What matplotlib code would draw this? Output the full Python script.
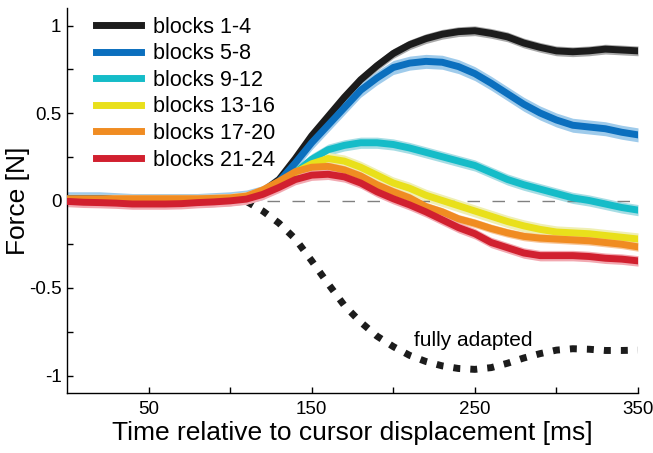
import numpy as np
import matplotlib
matplotlib.use("Agg")
from matplotlib import pyplot as plt

plt.rcParams['font.family'] = ['Liberation Sans', 'DejaVu Sans']

# time grid [ms]
t = np.arange(0, 351, 10)

# mean force per block group [N]
blocks_1_4 = [0.01, 0.01, 0.01, 0.005, 0.0, 0.0, 0.0, 0.0, 0.0, 0.005,
              0.01, 0.02, 0.05, 0.12, 0.24, 0.37, 0.48, 0.59, 0.69, 0.77,
              0.84, 0.89, 0.925, 0.95, 0.965, 0.97, 0.955, 0.935, 0.90,
              0.875, 0.855, 0.85, 0.855, 0.865, 0.86, 0.855]
blocks_5_8 = [0.01, 0.01, 0.01, 0.005, 0.0, 0.0, 0.0, 0.0, 0.0, 0.005,
              0.01, 0.02, 0.045, 0.11, 0.215, 0.33, 0.43, 0.53, 0.63, 0.70,
              0.76, 0.785, 0.795, 0.79, 0.765, 0.725, 0.67, 0.61, 0.55,
              0.50, 0.46, 0.43, 0.42, 0.41, 0.39, 0.375]
blocks_9_12 = [0.0, 0.0, 0.0, 0.0, 0.0, 0.0, 0.0, 0.0, 0.0, 0.0,
               0.005, 0.015, 0.04, 0.09, 0.16, 0.235, 0.29, 0.315, 0.33,
               0.33, 0.32, 0.30, 0.275, 0.25, 0.225, 0.20, 0.16, 0.12,
               0.09, 0.065, 0.04, 0.015, 0.0, -0.02, -0.04, -0.055]
blocks_13_16 = [0.0, 0.0, 0.0, 0.0, 0.0, 0.0, 0.0, 0.0, 0.0, 0.0,
                0.005, 0.015, 0.045, 0.10, 0.16, 0.21, 0.24, 0.225, 0.19,
                0.145, 0.10, 0.07, 0.03, 0.0, -0.03, -0.06, -0.09, -0.12,
                -0.145, -0.165, -0.18, -0.185, -0.19, -0.20, -0.21, -0.22]
blocks_17_20 = [0.01, 0.01, 0.01, 0.01, 0.01, 0.01, 0.01, 0.01, 0.01, 0.012,
                0.015, 0.025, 0.06, 0.11, 0.165, 0.19, 0.195, 0.175, 0.14,
                0.09, 0.05, 0.015, -0.035, -0.065, -0.105, -0.13, -0.16,
                -0.185, -0.205, -0.215, -0.22, -0.225, -0.23, -0.24, -0.25,
                -0.265]
blocks_21_24 = [-0.005, -0.01, -0.012, -0.015, -0.02, -0.02, -0.02, -0.018,
                -0.012, -0.008, -0.002, 0.008, 0.035, 0.075, 0.12, 0.145,
                0.15, 0.135, 0.10, 0.05, 0.01, -0.025, -0.065, -0.11, -0.155,
                -0.19, -0.24, -0.27, -0.30, -0.315, -0.315, -0.315, -0.32,
                -0.33, -0.335, -0.345]

# standard error half-widths [N]
sem = [0.028, 0.04, 0.032, 0.035, 0.025, 0.03]

# fully adapted prediction
t_adapted = np.arange(100, 351, 10)
fully_adapted = [0.0, -0.005, -0.06, -0.13, -0.22, -0.345, -0.475, -0.60,
                 -0.695, -0.775, -0.835, -0.885, -0.92, -0.945, -0.96, -0.965,
                 -0.955, -0.93, -0.90, -0.875, -0.855, -0.847, -0.85, -0.857,
                 -0.857, -0.855]

labels = ["blocks 1-4", "blocks 5-8", "blocks 9-12", "blocks 13-16",
          "blocks 17-20", "blocks 21-24"]
colors = ["#1c1c1c", "#0b6fbe", "#15bcc8", "#e9e01b", "#f08c22", "#d1202f"]
band_colors = ["#a9a9a9", "#9fcbeb", "#a6dde4", "#efefb4", "#f8c79a",
               "#f2a9b1"]

x_ticks = [50, 100, 150, 200, 250, 300, 350]
x_tick_labels = ["50", "", "150", "", "250", "", "350"]
y_ticks = [-1, -0.75, -0.5, -0.25, 0, 0.25, 0.5, 0.75, 1]
y_tick_labels = ["-1", "", "-0.5", "", "0", "", "0.5", "", "1"]

series = [blocks_1_4, blocks_5_8, blocks_9_12, blocks_13_16, blocks_17_20,
          blocks_21_24]

fig = plt.figure(figsize=(6.53, 4.53), dpi=100)
ax = fig.add_axes([67 / 653, 1 - 393 / 453, 571 / 653, 385 / 453])

ax.plot(t_adapted, fully_adapted, c='#1c1c1c', lw=5, dashes=(1.0, 1.45),
        dash_capstyle='butt', zorder=1)
ax.axhline(0, c='#808080', lw=1.0, dashes=(9, 9), zorder=2.5)

for k, y in enumerate(series):
    y = np.array(y)
    ax.fill_between(t, y - sem[k], y + sem[k], color=band_colors[k], lw=0,
                    zorder=2 + k * 0.1)
    ax.plot(t, y, c=colors[k], lw=5, label=labels[k],
            solid_joinstyle='round', zorder=3 + k * 0.1)

ax.text(249, -0.80, "fully adapted", fontsize=15, ha='center', va='center')

ax.set_xlim(0, 350)
ax.set_ylim(-1.1, 1.1)
ax.set_xticks(x_ticks)
ax.set_xticklabels(x_tick_labels)
ax.set_yticks(y_ticks)
ax.set_yticklabels(y_tick_labels)
ax.tick_params(direction='in', length=4.5, width=1, labelsize=13.5)
ax.tick_params(axis='x', pad=6)
ax.tick_params(axis='y', pad=4)
for s in ['top', 'right']:
    ax.spines[s].set_visible(False)
for s in ['left', 'bottom']:
    ax.spines[s].set_linewidth(1)

ax.set_xlabel("Time relative to cursor displacement [ms]", fontsize=19,
              labelpad=2)
ax.set_ylabel("Force [N]", fontsize=19, labelpad=-1)

ax.legend(loc='upper left', bbox_to_anchor=(0.035, 1.0), frameon=False,
          fontsize=15.5, handlelength=2.1, handletextpad=0.55,
          labelspacing=0.26, borderaxespad=0.0)

fig.savefig("out.png", dpi=100)
